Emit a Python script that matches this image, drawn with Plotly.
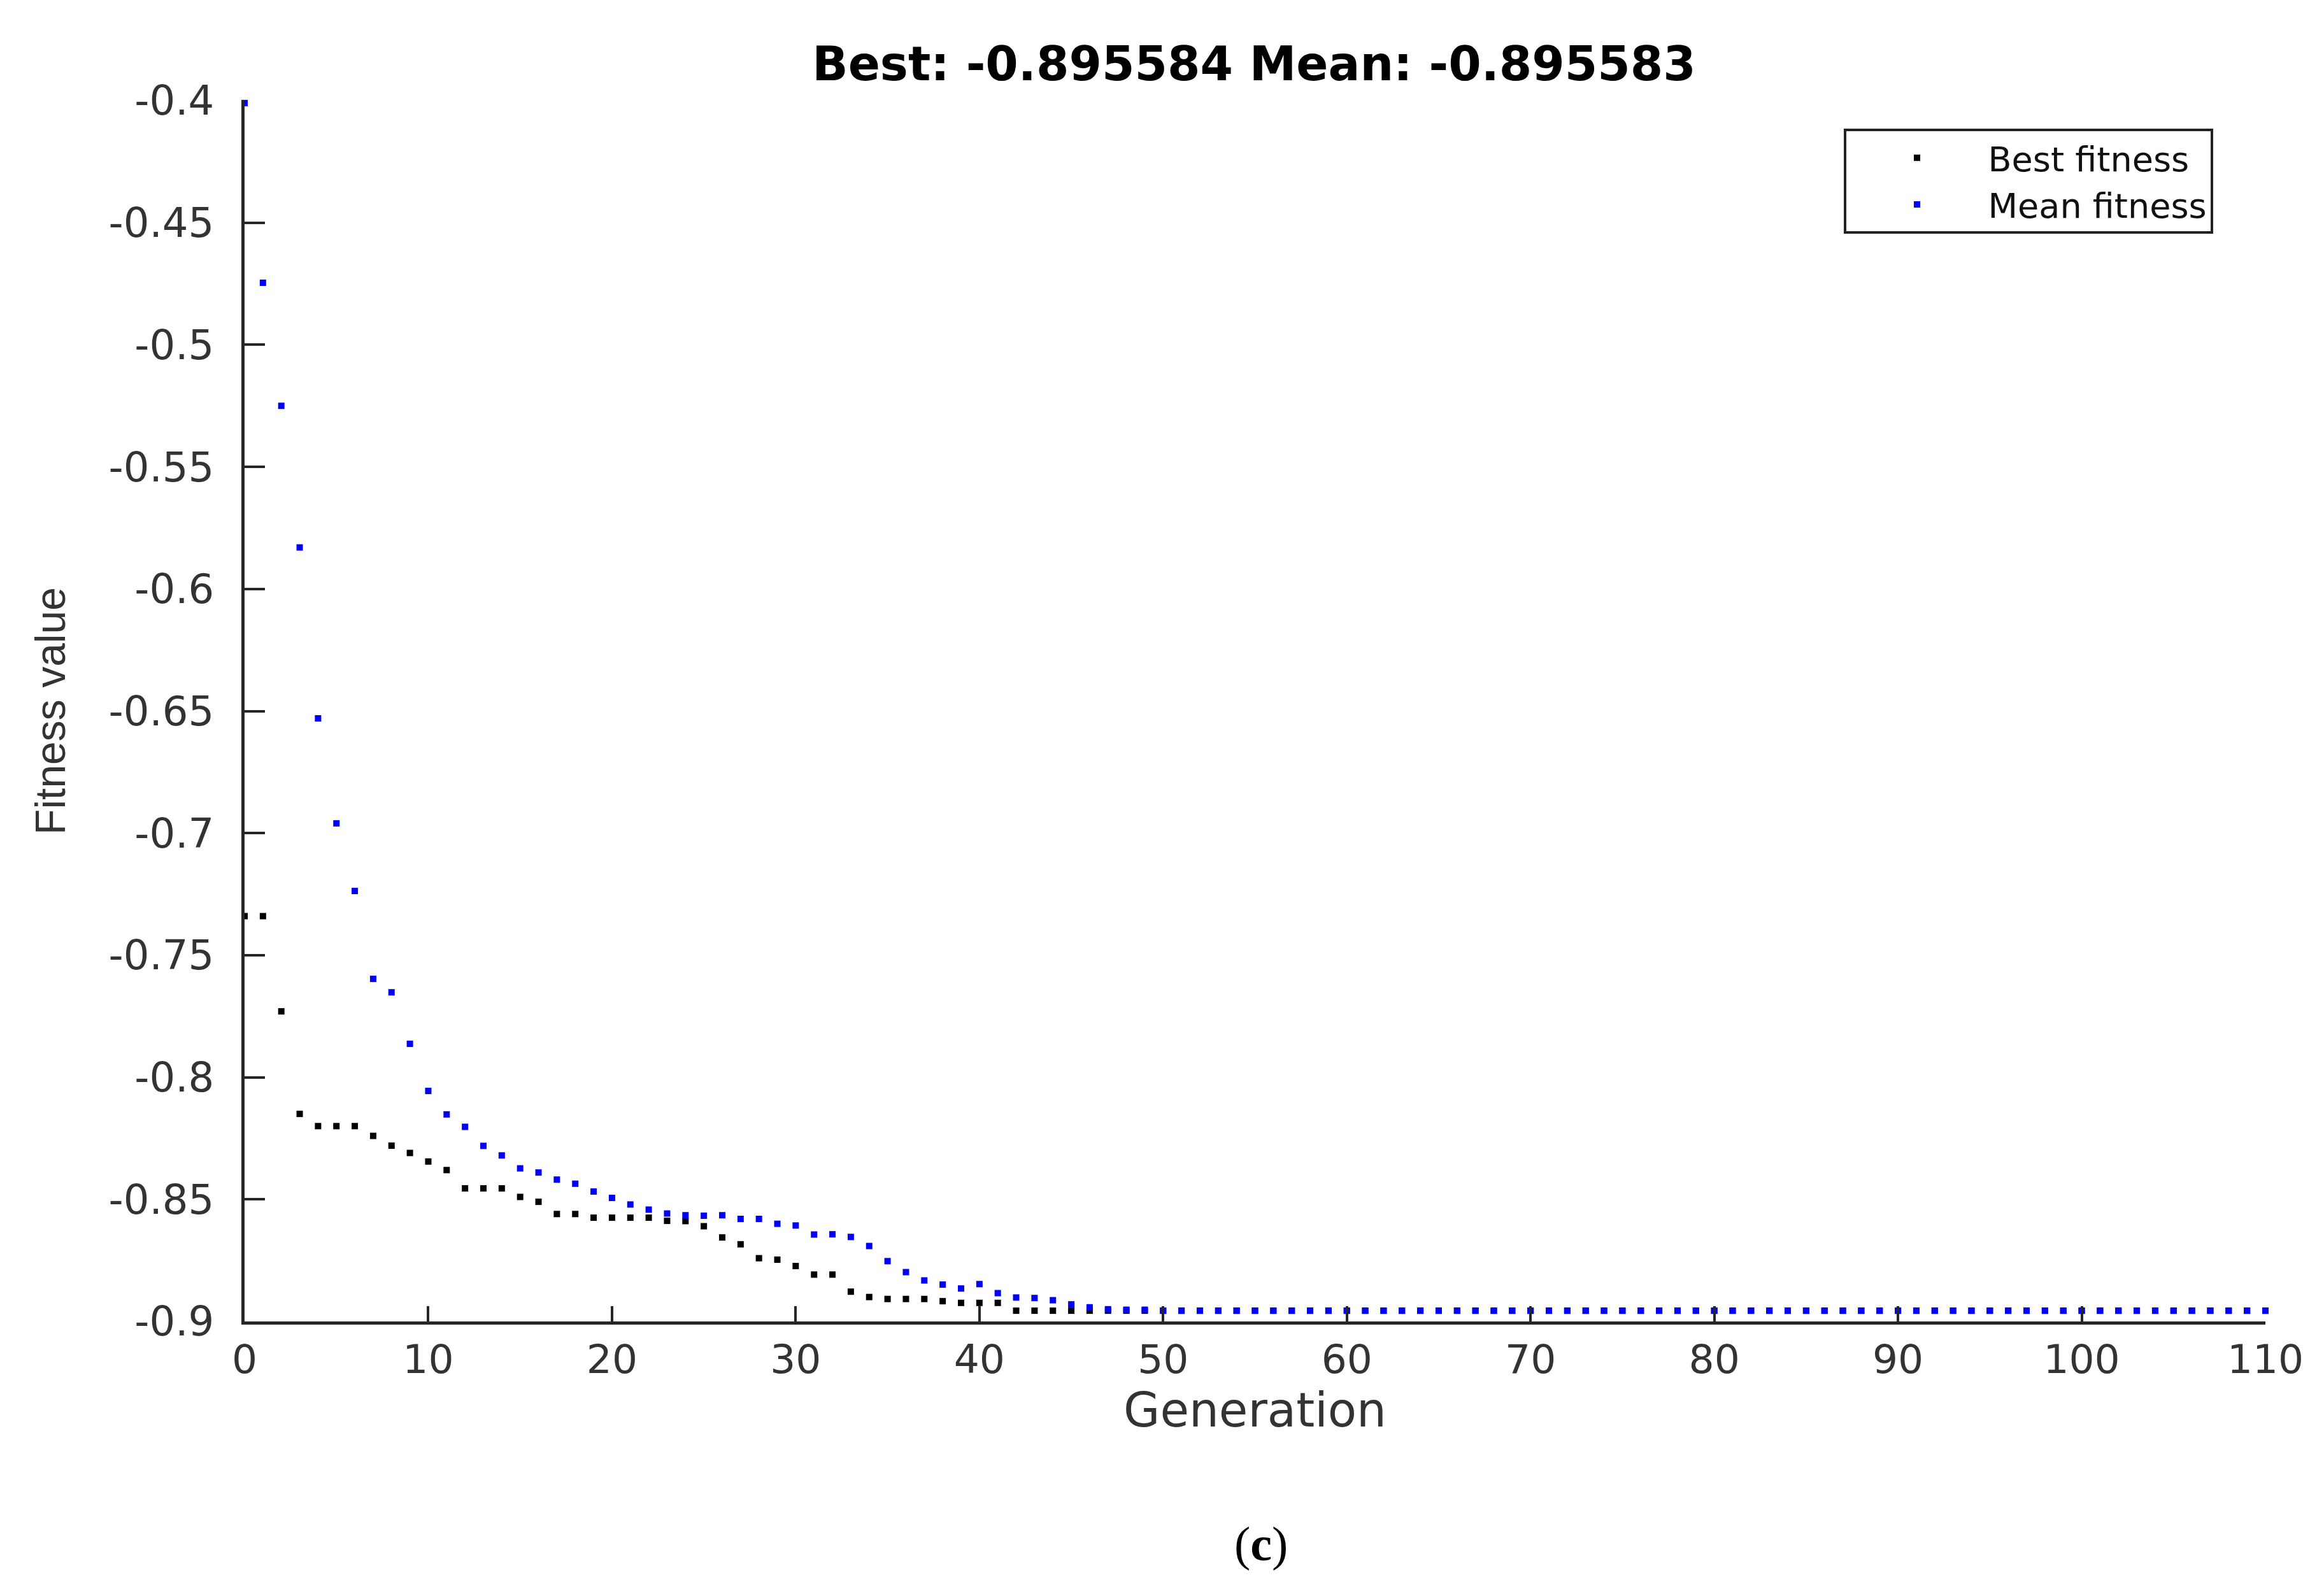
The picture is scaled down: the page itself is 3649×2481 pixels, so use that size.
import plotly.graph_objects as go

generations = list(range(0, 111))

best_fitness = [
    -0.734, -0.734, -0.773, -0.815, -0.820, -0.820, -0.820, -0.824, -0.828, -0.831,
    -0.8345, -0.838, -0.8455, -0.8455, -0.8455, -0.849, -0.851, -0.856, -0.856, -0.8575,
    -0.8575, -0.8575, -0.8575, -0.8588, -0.8589, -0.861, -0.8656, -0.8684, -0.8741, -0.8747,
    -0.8773, -0.8808, -0.8808, -0.8878, -0.890, -0.8908, -0.8908, -0.8908, -0.8917, -0.8924,
    -0.8924, -0.8924, -0.8956, -0.8956, -0.8956, -0.8956, -0.8956, -0.8956, -0.8956, -0.8956,
    -0.8956, -0.8956, -0.8956, -0.8956, -0.8956, -0.8956, -0.8956, -0.8956, -0.8956, -0.8956,
    -0.8956, -0.8956, -0.8956, -0.8956, -0.8956, -0.8956, -0.8956, -0.8956, -0.8956, -0.8956,
    -0.8956, -0.8956, -0.8956, -0.8956, -0.8956, -0.8956, -0.8956, -0.8956, -0.8956, -0.8956,
    -0.8956, -0.8956, -0.8956, -0.8956, -0.8956, -0.8956, -0.8956, -0.8956, -0.8956, -0.8956,
    -0.8956, -0.8956, -0.8956, -0.8956, -0.8956, -0.8956, -0.8956, -0.8956, -0.8956, -0.8956,
    -0.8956, -0.8956, -0.8956, -0.8956, -0.8956, -0.8956, -0.8956, -0.8956, -0.8956, -0.8956,
    -0.8956,
]

mean_fitness = [
    -0.401, -0.4746, -0.525, -0.583, -0.653, -0.696, -0.7237, -0.7597, -0.7652, -0.7863,
    -0.8056, -0.8152, -0.8203, -0.8281, -0.832, -0.8373, -0.839, -0.8419, -0.8436, -0.8468,
    -0.8494, -0.8521, -0.8542, -0.8558, -0.8565, -0.8567, -0.8565, -0.858, -0.858, -0.860,
    -0.8607, -0.8644, -0.8643, -0.8654, -0.8691, -0.8753, -0.8798, -0.8832, -0.8849, -0.8865,
    -0.8847, -0.8884, -0.8902, -0.8904, -0.8913, -0.893, -0.8942, -0.895, -0.8952, -0.8952,
    -0.8956, -0.8956, -0.8956, -0.8956, -0.8956, -0.8956, -0.8956, -0.8956, -0.8956, -0.8956,
    -0.8956, -0.8956, -0.8956, -0.8956, -0.8956, -0.8956, -0.8956, -0.8956, -0.8956, -0.8956,
    -0.8956, -0.8956, -0.8956, -0.8956, -0.8956, -0.8956, -0.8956, -0.8956, -0.8956, -0.8956,
    -0.8956, -0.8956, -0.8956, -0.8956, -0.8956, -0.8956, -0.8956, -0.8956, -0.8956, -0.8956,
    -0.8956, -0.8956, -0.8956, -0.8956, -0.8956, -0.8956, -0.8956, -0.8956, -0.8956, -0.8956,
    -0.8956, -0.8956, -0.8956, -0.8956, -0.8956, -0.8956, -0.8956, -0.8956, -0.8956, -0.8956,
    -0.8956,
]

x_tick_vals = [0, 10, 20, 30, 40, 50, 60, 70, 80, 90, 100, 110]
y_tick_vals = [-0.4, -0.45, -0.5, -0.55, -0.6, -0.65, -0.7, -0.75, -0.8, -0.85, -0.9]
y_tick_text = ["-0.4", "-0.45", "-0.5", "-0.55", "-0.6", "-0.65", "-0.7", "-0.75", "-0.8", "-0.85", "-0.9"]

title_text = "Best: -0.895584 Mean: -0.895583"
series_names = ["Best fitness", "Mean fitness"]
caption = "(<b>c</b>)"

WIDE = "DejaVu Sans, Verdana, sans-serif"
NARROW = "Liberation Sans, Arial, sans-serif"

fig = go.Figure()
fig.add_trace(go.Scatter(
    x=generations, y=best_fitness, mode="markers", name=series_names[0],
    marker=dict(color="#000000", size=10, symbol="square"), cliponaxis=False,
))
fig.add_trace(go.Scatter(
    x=generations, y=mean_fitness, mode="markers", name=series_names[1],
    marker=dict(color="#0000FF", size=10, symbol="square"), cliponaxis=False,
))

fig.update_layout(
    width=3649, height=2481,
    paper_bgcolor="white", plot_bgcolor="white",
    margin=dict(l=376, r=100, t=150, b=414),
    title=dict(text="<b>" + title_text + "</b>", x=(376 + 1585) / 3649, xanchor="center",
               y=1 - 92 / 2481, yanchor="middle",
               font=dict(family=WIDE, size=74, color="#000000")),
    legend=dict(x=0.974, y=0.977, xanchor="right", yanchor="top",
                bordercolor="#222222", borderwidth=4, bgcolor="white",
                font=dict(family=WIDE, size=54, color="#111111"),
                itemwidth=213, tracegroupgap=0),
    showlegend=True,
)

fig.update_xaxes(
    range=[0, 110], tickvals=x_tick_vals,
    showline=True, linecolor="#262626", linewidth=5, mirror=False,
    ticks="inside", ticklen=24, tickwidth=4, tickcolor="#262626",
    showgrid=False, zeroline=False,
    tickfont=dict(family=WIDE, size=63, color="#333333"),
    title=dict(text="Generation", font=dict(family=WIDE, size=74, color="#333333"), standoff=18),
)
fig.update_yaxes(
    range=[-0.9, -0.4], tickvals=y_tick_vals, ticktext=y_tick_text,
    showline=True, linecolor="#262626", linewidth=5, mirror=False,
    ticks="inside", ticklen=32, tickwidth=4, tickcolor="#262626",
    showgrid=False, zeroline=False, ticklabelstandoff=30,
    tickfont=dict(family=WIDE, size=64, color="#333333"),
    title=dict(text="Fitness value", font=dict(family=NARROW, size=66, color="#333333"), standoff=48),
)

fig.add_annotation(
    text=caption, xref="paper", yref="paper",
    x=(1972 - 376) / (3649 - 376 - 100), y=-(2416 - 2067) / (2067 - 150),
    xanchor="center", yanchor="middle", showarrow=False,
    font=dict(family="Liberation Serif, Times New Roman, serif", size=76, color="#000000"),
)

fig.write_html("out.html")
